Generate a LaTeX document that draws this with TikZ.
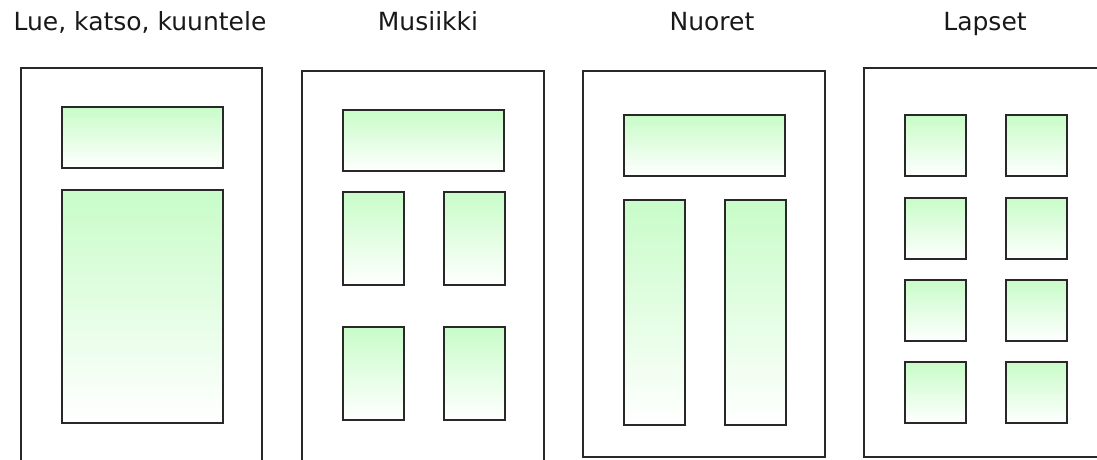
\documentclass[tikz,border=0pt]{standalone}
\usepackage{fontspec}
\setmainfont{DejaVu Sans}
\usepackage{xcolor}
\definecolor{slotgreen}{RGB}{200,252,200}
\definecolor{edgegray}{RGB}{40,40,40}

\begin{document}
\begin{tikzpicture}[x=1pt, y=-1pt,
    frame/.style={draw=edgegray, line width=1.6pt},
    slot/.style={draw=edgegray, line width=1.8pt, top color=slotgreen, bottom color=white,
                 anchor=north west, inner sep=0pt},
    wide/.style={slot, minimum width=161pt, minimum height=61pt},
    title/.style={anchor=base, font=\fontsize{25}{29}\selectfont, text=black!90}]

        % Page size
        \useasboundingbox (0,0) rectangle (1097,460);
        \clip (0,0) rectangle (1097,460);

        % Titles
        \node[title] (t1) at (140,31) {Lue, katso, kuuntele};
        \node[title] (t2) at (428,31) {Musiikki};
        \node[title] (t3) at (712,31) {Nuoret};
        \node[title] (t4) at (985,31) {Lapset};

        % Page frames
        \draw[frame] (21,68) rectangle (262,490);
        \draw[frame] (302,71) rectangle (544,490);
        \draw[frame] (583,71) rectangle (825,457);
        \draw[frame] (864,68) rectangle (1120,457);

        % Lue, katso, kuuntele
        \node[wide] (l1) at (61,106) {};
        \node[slot, minimum width=161pt, minimum height=233pt] (l2) at (61,189) {};

        % Musiikki
        \node[wide] (m1) at (342,109) {};
        \foreach \y/\r in {191/a, 326/b} {
            \node[slot, minimum width=61pt, minimum height=93pt] (m\r 1) at (342,\y) {};
            \node[slot, minimum width=61pt, minimum height=93pt] (m\r 2) at (443,\y) {};
        }

        % Nuoret
        \node[wide] (n1) at (623,114) {};
        \node[slot, minimum width=61pt, minimum height=225pt] (n2) at (623,199) {};
        \node[slot, minimum width=61pt, minimum height=225pt] (n3) at (724,199) {};

        % Lapset
        \foreach \y [count=\r] in {114,197,279,361} {
            \node[slot, minimum width=61pt, minimum height=61pt] (p\r a) at (904,\y) {};
            \node[slot, minimum width=61pt, minimum height=61pt] (p\r b) at (1005,\y) {};
        }
    \end{tikzpicture}
\end{document}
